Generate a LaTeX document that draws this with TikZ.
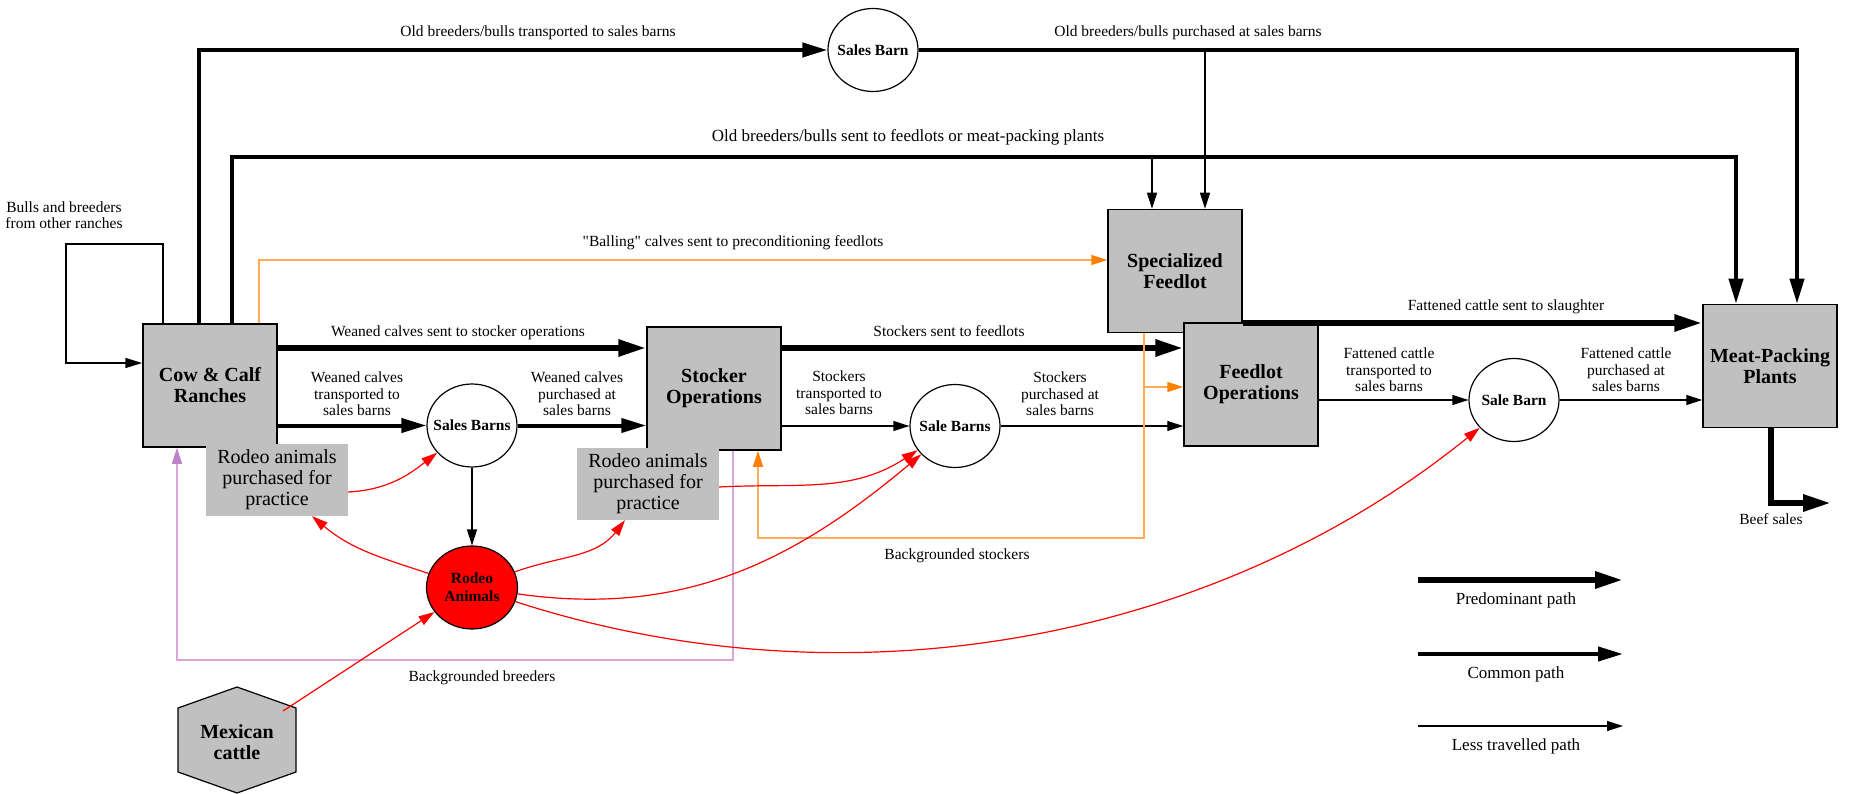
\documentclass[tikz,border=0pt]{standalone}
\usepackage{fontspec}
\setmainfont{Liberation Serif}
\usetikzlibrary{positioning}
\usetikzlibrary{arrows.meta,shapes}
\usetikzlibrary{calc}

\definecolor{boxgray}{RGB}{192,192,192}
\definecolor{orangeline}{RGB}{255,170,85}
\definecolor{orangehead}{RGB}{255,128,0}
\definecolor{plumline}{RGB}{218,165,218}
\definecolor{plumhead}{RGB}{190,130,200}

\tikzstyle{unit}=[rectangle,draw=black,fill=boxgray,line width=1.5pt,minimum width=134pt,minimum height=123pt,inner sep=0pt,align=center,font=\bfseries\fontsize{20}{21}\selectfont]
\tikzstyle{barn}=[ellipse,draw=black,fill=white,line width=1.2pt,minimum width=90pt,minimum height=83pt,inner xsep=-15pt,inner ysep=0pt,align=center,font=\bfseries\fontsize{15.5}{18}\selectfont]
\tikzstyle{practice}=[rectangle,fill=boxgray,minimum width=142pt,minimum height=72pt,inner sep=0pt,align=center,font=\fontsize{20}{21}\selectfont]
\tikzstyle{weight}=[align=center,inner sep=0pt,font=\fontsize{15.5}{16.5}\selectfont]
\tikzstyle{keytext}=[inner sep=0pt,font=\fontsize{17}{18}\selectfont]
\tikzstyle{predominant}=[draw,line width=6pt,-{Triangle[length=28pt,width=16pt]}]
\tikzstyle{common}=[draw,line width=4pt,-{Triangle[length=25pt,width=14pt]}]
\tikzstyle{less}=[draw,line width=1.2pt,-{Triangle[length=16pt,width=10pt]}]
\tikzstyle{loopedge}=[draw,line width=1.6pt,-{Triangle[length=17pt,width=10pt]}]
\tikzstyle{rodeoedge}=[draw,red,line width=1.2pt,-{Triangle[length=16pt,width=10pt]}]
\tikzstyle{balledge}=[draw,orangeline,line width=1.5pt,-{Triangle[length=16pt,width=10pt,color=orangehead]}]
\tikzstyle{breededge}=[draw,plumline,line width=1.5pt,-{Triangle[length=16pt,width=10pt,color=plumhead]}]

\begin{document}
\begin{tikzpicture}[x=1pt,y=-1pt]
\useasboundingbox (0,0) rectangle (1853,794);

% the operations
    \foreach \pos/\name/\label in {{(1175,271)/spec/Specialized\\Feedlot}, {(210,385.5)/cow/Cow \& Calf\\Ranches}, {(714,388.5)/stocker/Stocker\\Operations}, {(1251,384.5)/feedlot/Feedlot\\Operations}, {(1770,366)/meat/Meat-Packing\\Plants}}
        \node[unit] (\name) at \pos {\label};

% the sale barns
    \foreach \pos/\name/\label in {{(873,50)/salestop/Sales Barn}, {(472,425.5)/salesA/Sales Barns}, {(955,426)/salesB/Sale Barns}, {(1514,400)/salesC/Sale Barn}}
        \node[barn] (\name) at \pos {\label};
    \node[barn,fill=red,minimum width=91pt] (rodeo) at (472,587.5) {Rodeo\\Animals};

    \foreach \pos/\name in {{(277,480)/rboxA}, {(648,484)/rboxB}}
        \node[practice] (\name) at \pos {Rodeo animals\\purchased for\\practice};

% Mexican cattle
    \draw[fill=boxgray,line width=1.2pt] (237,687) -- (296,708) -- (296,772) -- (237,793) -- (178,772) -- (178,708) -- cycle;
    \node[align=center,inner sep=0pt,font=\bfseries\fontsize{20}{21}\selectfont] (mex) at (237,742) {Mexican\\cattle};
    \coordinate (mexout) at (283,711);

% edge labels
    \node[weight] (wbulls) at (64,215) {Bulls and breeders\\from other ranches};
    \node[weight] (woldA) at (538,33) {Old breeders/bulls transported to sales barns};
    \node[weight] (woldB) at (1188,33) {Old breeders/bulls purchased at sales barns};
    \node[weight,font=\fontsize{17}{18}\selectfont] (woldC) at (908,137) {Old breeders/bulls sent to feedlots or meat-packing plants};
    \foreach \pos/\name/\label in {{(733,243)/wball/\textquotedbl Balling\textquotedbl{} calves sent to preconditioning feedlots}, {(458,333)/wweaned/Weaned calves sent to stocker operations}, {(357,394)/wweanedA/Weaned calves\\transported to\\sales barns}, {(577,394)/wweanedB/Weaned calves\\purchased at\\sales barns}, {(949,331)/wstock/Stockers sent to feedlots}, {(839,393)/wstockA/Stockers\\transported to\\sales barns}, {(1060,394)/wstockB/Stockers\\purchased at\\sales barns}, {(1506,307)/wfat/Fattened cattle sent to slaughter}, {(1389,370)/wfatA/Fattened cattle\\transported to\\sales barns}, {(1626,370)/wfatB/Fattened cattle\\purchased at\\sales barns}, {(1771,519)/wbeef/Beef sales}, {(957,556)/wbackA/Backgrounded stockers}, {(482,678)/wbackB/Backgrounded breeders}}
        \node[weight] (\name) at \pos {\label};

% connect the nodes
    \draw[loopedge] (cow.north -| 163,0) |- (66,244) |- (cow.west |- 0,363);
    \draw[common] (cow.north -| 199,0) |- (salestop.west);
    \draw[common] (salestop.east) -| (meat.north -| 1797,0);
    \draw[less] (salestop.east) -| (spec.north -| 1205,0);
    \draw[common] (cow.north -| 232,0) -- (232,157) -| (meat.north -| 1736,0);
    \draw[less] (cow.north -| 232,0) -- (232,157) -| (spec.north -| 1152,0);
    \draw[balledge] (cow.north -| 259,0) |- (spec.west |- 0,260);

    \draw[predominant] (cow.east |- 0,348) -- (stocker.west |- 0,348);
    \draw[common] (cow.east |- salesA.west) -- (salesA.west);
    \draw[common] (salesA.east) -- (stocker.west |- salesA.east);
    \draw[predominant] (stocker.east |- 0,348) -- (feedlot.west |- 0,348);
    \draw[less] (stocker.east |- salesB.west) -- (salesB.west);
    \draw[less] (salesB.east) -- (feedlot.west |- salesB.east);
    \draw[predominant] (spec.east |- 0,323) -- (meat.west |- 0,323);
    \draw[less] (feedlot.east |- salesC.west) -- (salesC.west);
    \draw[less] (salesC.east) -- (meat.west |- salesC.east);
    \coordinate (beef) at (1831,503);
    \draw[predominant] (meat.south -| 1771,0) |- (beef);

    \draw[balledge] (spec.south -| 1144,0) -- (1144,538) -| (stocker.south -| 758,0);
    \draw[balledge] (spec.south -| 1144,0) |- (feedlot.west |- 0,387);
    \draw[breededge] (stocker.south -| 733,0) |- (177,660) -- (cow.south -| 177,0);

% rodeo animals
    \draw[less] (salesA) -- (rodeo);
    \draw[rodeoedge] (rboxA.east |- 0,492) to[out=3,in=218] (salesA);
    \draw[rodeoedge] (rboxB.east |- 0,487) to[out=3,in=213] (salesB);
    \draw[rodeoedge] (rodeo) to[out=162,in=-40] (rboxA.south -| 312,0);
    \draw[rodeoedge] (rodeo) to[out=20,in=232] (rboxB.south -| 625,0);
    \draw[rodeoedge] (rodeo) to[out=-8,in=220] (salesB);
    \draw[rodeoedge] (rodeo) to[out=-18,in=219,looseness=0.9] (salesC);
    \draw[rodeoedge] (mexout) -- (rodeo);

% key
    \foreach \y/\kind/\name/\label in {580/predominant/keyA/Predominant path, 654/common/keyB/Common path, 726/less/keyC/Less travelled path}{
        \coordinate (\name start) at (1418,\y);
        \coordinate (\name end) at (1623,\y);
        \draw[\kind] (\name start) -- (\name end);
        \node[keytext] (\name text) at (1516,\y+20) {\label};
    }
\end{tikzpicture}
\end{document}
